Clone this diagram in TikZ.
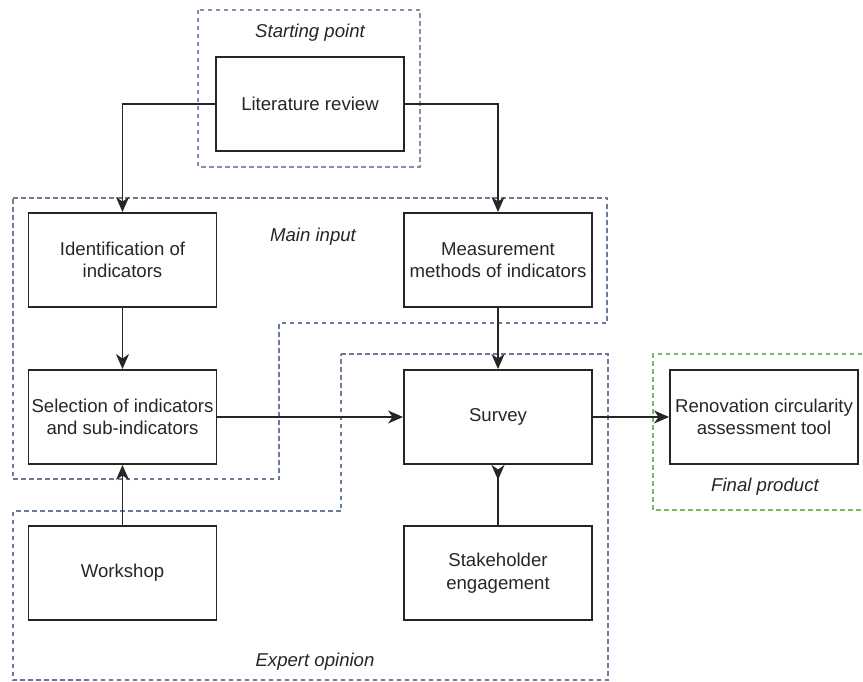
\documentclass[tikz,border=0pt]{standalone}
\usepackage{fontspec}
\setmainfont{Liberation Sans}
\usetikzlibrary{arrows.meta}
\definecolor{grpblue}{HTML}{7F93B5}
\definecolor{grpslate}{HTML}{6A7B99}
\definecolor{grpgreen}{HTML}{82B366}
\tikzset{
  box/.style={draw=black!85, line width=1.9pt, minimum width=188pt, minimum height=94pt,
              align=center, inner sep=0pt, font=\fontsize{18.6}{22.4}\selectfont, text=black!85},
  grp/.style={line width=1.5pt, dash pattern=on 4.5pt off 3.5pt},
  grplabel/.style={font=\fontsize{18.6}{22.4}\selectfont\itshape, text=black!85, inner sep=0pt},
  arr/.style={draw=black!85, line width=1.9pt, -{Stealth[length=15pt,width=13pt,inset=4.5pt]}},
  rarr/.style={draw=black!85, line width=1.9pt, -{Stealth[length=15pt,width=13pt,inset=4.5pt,reversed]}}
}
\begin{document}
\begin{tikzpicture}[x=1pt,y=-1pt]
\useasboundingbox (0,0) rectangle (863,682);
\begin{scope}
\clip (0,0) rectangle (863,682);
% group frames
\draw[grp, draw=grpblue] (198,10) rectangle (420,167);
\draw[grp, draw=grpslate] (13,198) -- (607,198) -- (607,323) -- (279,323) -- (279,479) -- (13,479) -- cycle;
\draw[grp, draw=grpslate] (341,354) -- (608,354) -- (608,680) -- (13,680) -- (13,511) -- (341,511) -- cycle;
\draw[grp, draw=grpgreen] (870,354) -- (653,354) -- (653,510) -- (870,510);
\end{scope}
% group labels
\node[grplabel] (lstart) at (310,33) {Starting point};
\node[grplabel] (lmain) at (313,237) {Main input};
\node[grplabel] (lexpert) at (315,662) {Expert opinion};
\node[grplabel] (lfinal) at (765,487) {Final product};
% nodes
\node[box, fill=white] (lit) at (310,104) {Literature review};
\node[box] (ident) at (122.5,260) {Identification of\\indicators};
\node[box] (meas) at (498,260) {Measurement\\methods of indicators};
\node[box] (sel) at (122.5,417) {Selection of indicators\\and sub-indicators};
\node[box] (survey) at (498,417) {Survey};
\node[box] (work) at (122.5,573) {Workshop};
\node[box] (stake) at (498,573) {Stakeholder\\engagement};
\node[box] (reno) at (764,417) {Renovation circularity\\assessment tool};
% connectors
\draw[arr] (lit.west) -| (ident.north);
\draw[arr] (lit.east) -| (meas.north);
\draw[arr] (ident) -- (sel);
\draw[arr] (meas) -- (survey);
\draw[arr] (sel) -- (survey);
\draw[arr] (survey) -- (reno);
\draw[arr] (work) -- (sel);
\draw[rarr] (stake) -- (survey);
\end{tikzpicture}
\end{document}
